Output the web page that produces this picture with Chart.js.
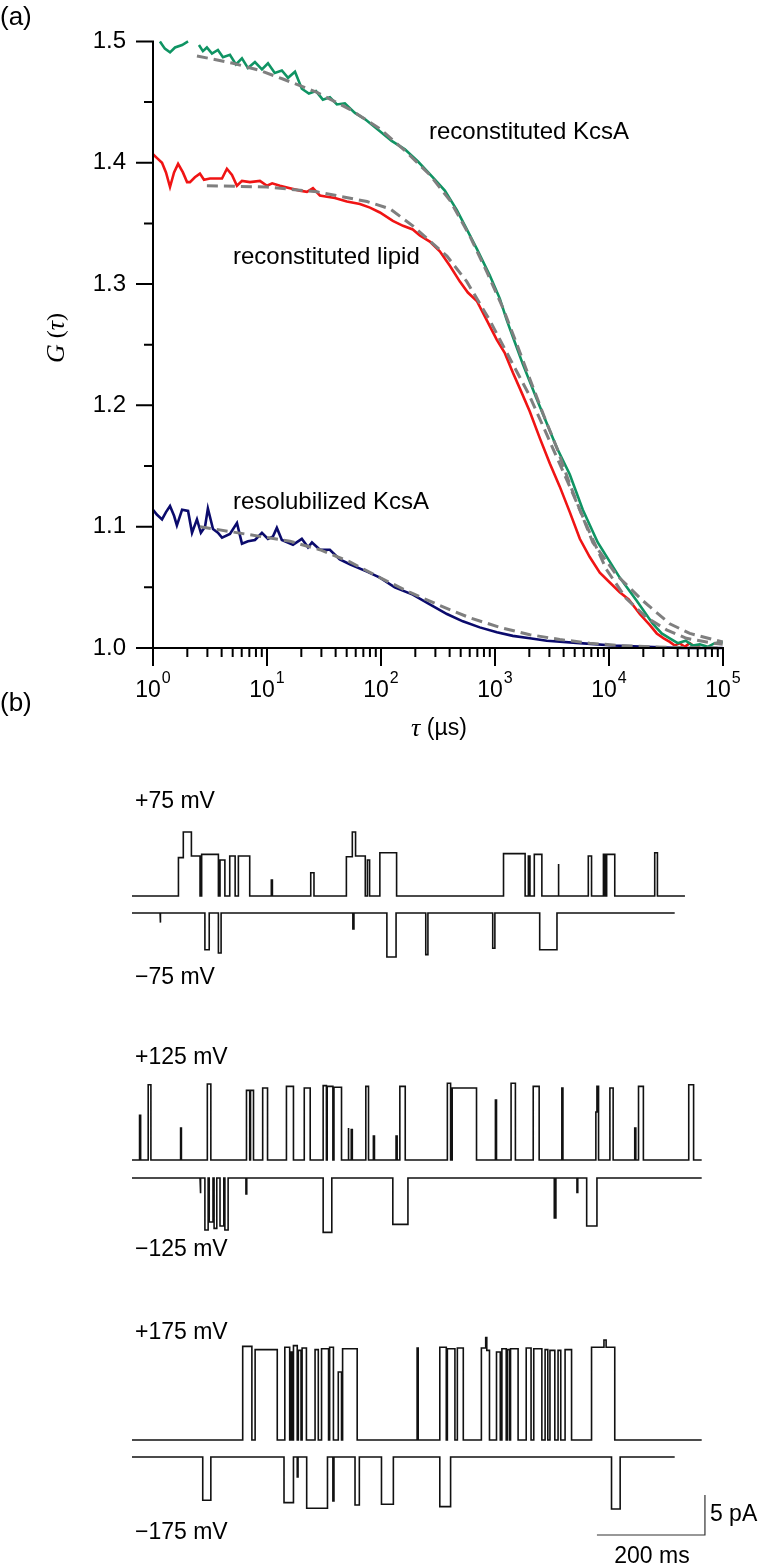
<!DOCTYPE html>
<html><head><meta charset="utf-8">
<script src="https://cdn.jsdelivr.net/npm/chart.js@4/dist/chart.umd.min.js"></script>
<style>
html,body{margin:0;padding:0;background:#fff;}
#wrapA{position:absolute;left:0;top:0;width:761px;height:750px;}
#wrapB{position:absolute;left:0;top:750px;width:761px;height:818px;}
canvas{display:block;}
</style></head><body>
<div id="wrapA"><canvas id="cA" width="761" height="750"></canvas></div>
<div id="wrapB"><canvas id="cB" width="761" height="818"></canvas></div>
<script>
// ---------- Panel (a) data : tau (µs) and G(tau) ----------
const tauGreen = [1.15,1.27,1.41,1.56,1.80,2.03,2.25,2.53,2.74,2.97,3.29,3.71,4.11,4.73,5.34,6.03,6.81,7.84,9.03,10.2,11.7,13.5,15.3,17.6,20.2,23.3,26.9,30.9,35.6,41.0,48.2,59.0,72.2,97.8,124,162,211,285,363,463,566,693,901,1102,1270,1493,1754,2328,3487,4530,5890,7970,12420,17500,24200,29000,34120,40090,47100,54240,62500,73440,84560,99400];
const gGreen = [1.500,1.494,1.491,1.495,1.497,1.500,null,1.497,1.492,1.495,1.490,1.493,1.487,1.489,1.481,1.486,1.478,1.483,1.477,1.482,1.474,1.476,1.470,1.475,1.461,1.457,1.459,1.452,1.454,1.448,1.449,1.441,1.436,1.426,1.418,1.411,1.401,1.388,1.377,1.361,1.345,1.329,1.307,1.288,1.270,1.252,1.234,1.205,1.165,1.143,1.114,1.087,1.058,1.039,1.020,1.012,1.008,1.004,1.006,1.002,1.003,1.001,1.004,1.005];

const tauRed = [1.00,1.08,1.20,1.30,1.41,1.53,1.66,1.83,1.99,2.11,2.33,2.58,2.80,3.16,3.57,4.03,4.45,4.93,5.45,6.03,7.09,8.67,10.0,11.1,13.0,15.9,19.4,22.4,25.3,29.1,33.6,39.4,50.2,65.3,80.0,97.8,127,156,190,219,268,328,402,492,578,693,848,1038,1220,1433,1651,2019,2472,3027,3700,4530,5545,6780,8305,10160,12420,14900,18620,22750,26240,30200,34120,37760,41700,46130,51050,56480,62500];
const gRed = [1.407,1.404,1.400,1.392,1.380,1.392,1.399,1.392,1.384,1.384,1.388,1.391,1.386,1.387,1.387,1.387,1.395,1.390,1.381,1.385,1.384,1.385,1.381,1.383,1.381,1.379,1.377,1.376,1.379,1.373,1.372,1.371,1.368,1.366,1.363,1.359,1.352,1.348,1.345,1.340,1.335,1.327,1.315,1.302,1.293,1.286,1.270,1.254,1.243,1.227,1.214,1.195,1.173,1.152,1.133,1.112,1.090,1.075,1.062,1.054,1.046,1.040,1.028,1.019,1.012,1.008,1.005,1.002,1.004,1.001,1.004,1.001,1.002];

const tauBlue = [1.00,1.08,1.20,1.30,1.41,1.53,1.62,1.80,2.03,2.20,2.43,2.63,2.86,3.03,3.36,3.71,4.03,4.73,5.45,6.03,6.81,7.84,9.03,10.2,11.3,12.2,13.5,16.9,20.2,22.9,24.8,29.1,35.6,43.5,53.3,75.4,97.8,132,190,268,379,522,735,1038,1433,2019,2843,5545,10800,21430,41700,99400];
const gBlue = [1.114,1.110,1.106,1.112,1.117,1.109,1.101,1.114,1.113,1.095,1.106,1.095,1.100,1.115,1.098,1.095,1.091,1.094,1.103,1.086,1.088,1.089,1.095,1.090,1.092,1.099,1.089,1.085,1.090,1.083,1.087,1.081,1.081,1.073,1.069,1.063,1.058,1.050,1.044,1.036,1.028,1.022,1.017,1.013,1.010,1.008,1.006,1.004,1.002,1.001,1.000,1.000];

const tauGreenFit = [2.43,5.03,8.67,13.8,27.4,53.3,97.8,162,268,402,598,848,1177,1560,2019,2720,3487,4530,5545,7210,11700,19770,34120,51050,99400];
const gGreenFit = [1.488,1.482,1.476,1.469,1.458,1.444,1.428,1.410,1.390,1.369,1.340,1.310,1.280,1.250,1.222,1.190,1.165,1.135,1.114,1.087,1.060,1.039,1.020,1.012,1.005];

const tauRedFit = [2.97,10.0,27.4,75.4,120,190,379,566,901,1433,1960,2843,4530,6780,9450,14100,21430,32000,47800,81000,99400];
const gRedFit = [1.381,1.380,1.376,1.368,1.362,1.348,1.323,1.302,1.270,1.234,1.210,1.176,1.133,1.095,1.065,1.041,1.025,1.015,1.008,1.004,1.003];

const tauBlueFit = [2.58,4.73,8.67,15.9,29.1,53.3,97.8,178,328,598,1102,2019,3700,6780,12420,22750,41700,99400];
const gBlueFit = [1.100,1.096,1.092,1.088,1.081,1.071,1.058,1.046,1.035,1.025,1.017,1.011,1.007,1.004,1.002,1.001,1.0005,1.000];

const xDecades = [1,10,100,1000,10000,100000];
const xExponents = ['0','1','2','3','4','5'];
const yMajorTicks = [1.0,1.1,1.2,1.3,1.4,1.5];
const yMinorTicks = [1.05,1.15,1.25,1.35,1.45];
const seriesNames = ['reconstituted KcsA','reconstituted lipid','resolubilized KcsA'];

// ---------- Panel (b) data : single-channel events [start ms, end ms, current pA] ----------
const voltages = ['+75 mV','\u221275 mV','+125 mV','\u2212125 mV','+175 mV','\u2212175 mV'];
const traceEnds = [1024,1005,1055,1055,1055,1005];
const ev75p = [[86,95,4.8],[95,110,8.0],[110,126,5.0],[129,160,5.2],[163,172,4.5],[181,191,5.0],[197,218,5.0],[258,260,2.0],[331,337,2.9],[397,408,4.9],[408,414,8.0],[414,432,5.0],[436,440,4.5],[459,490,5.4],[688,728,5.3],[734,737,5.0],[745,759,5.2],[789,790.5,4.0],[845,851,5.0],[873,876,5.2],[879,894,5.2],[968,973,5.4]];
const ev75n = [[52,53,-1.2],[135,143,-4.6],[160,165,-5.0],[409,411,-2.0],[472,489,-5.5],[544,548,-5.2],[668,672,-4.4],[755,787,-4.6]];
const ev125p = [[14,16,5.6],[30,35,9.4],[90,91.5,4.0],[139.5,146,9.5],[212,218,8.7],[219.5,225,8.7],[242,251,9.0],[286,299,9.2],[319,330,9.0],[354,360,9.3],[361.5,372,9.2],[374,388,9.1],[400,401.5,4.0],[406,408,3.8],[433,438,9.2],[447,449,3.0],[489,491,3.0],[496,506,9.2],[584,590,9.6],[593,638,9.0],[673,675,7.5],[702,710,9.6],[743,754,9.2],[796,798,9.0],[859,861,6.0],[861,864,9.2],[885,891,9.0],[931,933,4.0],[938,947,9.2],[1031,1040,9.4]];
const ev125n = [[126,127.5,-1.9],[135,141,-6.5],[143,150,-5.5],[152,157,-6.3],[163,170,-6.0],[172,178,-6.5],[211,212.5,-2.0],[354,370,-6.8],[483,511,-5.8],[782,785,-5.0],[824,825.5,-1.8],[842,861,-6.0]];
const ev175p = [[205,222,11.7],[228,269,11.3],[283,292,11.6],[294,297,11.0],[299,306,11.8],[308,313,11.2],[315,323,11.5],[339,345,11.3],[351,364,11.4],[366,373,11.6],[382,388,8.5],[390,417,11.4],[528,530,11.5],[570,582,11.6],[584,598,11.4],[602.5,613.5,11.5],[647,655,11.5],[655,657,12.8],[657,662,11.2],[675,682,11.0],[685,693,11.4],[695,699,11.3],[701,715,11.4],[730,739,11.5],[744,759,11.4],[765,770,11.3],[774,783,11.2],[789,794,11.2],[802,814,11.3],[851,874,11.6],[874,878,12.5],[878,894,11.6]];
const ev175n = [[131,146,-5.4],[281.5,299,-5.7],[306,307.5,-2.5],[323.5,362,-6.4],[372,374,-5.5],[413,421,-6.0],[462,484,-5.9],[570,590,-6.2],[888,904,-6.5]];
const traceEvents = [ev75p,ev75n,ev125p,ev125n,ev175p,ev175n];
const scaleBarTime = [861,1061,1061];
const scaleBarCurrent = [0,0,5];
const scaleBarLabels = ['200 ms','5 pA'];

// ---------- helpers ----------
const SANS = "'Liberation Sans', Arial, Helvetica, sans-serif";
const SERIF = "'Liberation Serif', 'Times New Roman', serif";
Chart.defaults.color = '#000';
Chart.defaults.font.family = SANS;

function pairs(xs, ys){ return xs.map((x,i)=>({x:x, y:ys[i]})); }
function buildTrace(tEnd, events){
  const pts=[{x:0,y:0}];
  for(let i=0;i<events.length;i++){
    const [a,b,l]=events[i];
    const prev=events[i-1], next=events[i+1];
    if(!prev || prev[1]!==a) pts.push({x:a,y:0});
    pts.push({x:a,y:l},{x:b,y:l});
    if(!next || next[0]!==b) pts.push({x:b,y:0});
  }
  pts.push({x:tEnd,y:0});
  return pts;
}
function drawParts(ctx, parts, cx, y){
  let w=0; parts.forEach(p=>{ctx.font=p.f; p.w=ctx.measureText(p.t).width; w+=p.w;});
  let x=cx-w/2;
  parts.forEach(p=>{ctx.font=p.f; ctx.fillText(p.t,x,y+(p.dy||0)); x+=p.w;});
}

// ---------- Panel (a) ----------
const axesA = {
  id:'axesA',
  afterDraw(chart){
    const {ctx, chartArea:a, scales:{x,y}} = chart;
    ctx.save();
    ctx.strokeStyle='#000'; ctx.fillStyle='#000'; ctx.lineWidth=2;
    ctx.beginPath();
    ctx.moveTo(a.left, y.getPixelForValue(1.5)-1); ctx.lineTo(a.left, a.bottom+1);
    ctx.moveTo(a.left-1, a.bottom); ctx.lineTo(x.getPixelForValue(1e5)+1, a.bottom);
    yMajorTicks.forEach(v=>{const p=y.getPixelForValue(v); ctx.moveTo(a.left-17,p); ctx.lineTo(a.left,p);});
    yMinorTicks.forEach(v=>{const p=y.getPixelForValue(v); ctx.moveTo(a.left-9,p); ctx.lineTo(a.left,p);});
    xDecades.forEach((d,i)=>{
      const p=x.getPixelForValue(d); ctx.moveTo(p,a.bottom); ctx.lineTo(p,a.bottom+18);
      if(i<xDecades.length-1){ for(let m=2;m<=9;m++){const q=x.getPixelForValue(d*m); ctx.moveTo(q,a.bottom); ctx.lineTo(q,a.bottom+9);} }
    });
    ctx.stroke();
    // x tick labels 10^n
    ctx.textBaseline='alphabetic';
    xDecades.forEach((d,i)=>{
      const p=x.getPixelForValue(d);
      ctx.font='23px '+SANS; const w1=ctx.measureText('10').width;
      ctx.font='16px '+SANS; const w2=ctx.measureText(xExponents[i]).width;
      const s=p-(w1+w2+1)/2;
      ctx.font='23px '+SANS; ctx.fillText('10', s, a.bottom+49);
      ctx.font='16px '+SANS; ctx.fillText(xExponents[i], s+w1+1, a.bottom+35);
    });
    // axis titles
    ctx.textBaseline='middle';
    drawParts(ctx,[{t:'\u03C4',f:'italic 26px '+SERIF},{t:' (\u00B5s)',f:'23px '+SANS}], (a.left+a.right)/2+1, a.bottom+81);
    ctx.save(); ctx.translate(57, 338); ctx.rotate(-Math.PI/2);
    drawParts(ctx,[{t:'G',f:'italic 26px '+SERIF},{t:' (',f:'24px '+SERIF},{t:'\u03C4',f:'italic 26px '+SERIF},{t:')',f:'24px '+SERIF}],0,0);
    ctx.restore();
    // series annotations
    ctx.font='24px '+SANS; ctx.textAlign='left';
    ctx.fillText(seriesNames[0], 429, 132);
    ctx.fillText(seriesNames[1], 233, 257);
    ctx.fillText(seriesNames[2], 233, 502);
    ctx.font='26px '+SANS;
    ctx.fillText('(a)', 0, 18);
    ctx.fillText('(b)', 0, 704);
    ctx.restore();
  }
};

const lineDs = (label, xs, ys, color, width, order, dash) => ({
  label, data: pairs(xs,ys), borderColor: color, borderWidth: width, order,
  borderDash: dash||[], pointRadius:0, fill:false, tension:0, spanGaps:false, clip:false
});

new Chart(document.getElementById('cA'), {
  type:'line',
  data:{datasets:[
    lineDs('fit KcsA', tauGreenFit, gGreenFit, '#7f7f7f', 3, 0, [11,6]),
    lineDs('fit lipid', tauRedFit, gRedFit, '#7f7f7f', 3, 0, [11,6]),
    lineDs('fit resolubilized', tauBlueFit, gBlueFit, '#7f7f7f', 3, 0, [11,6]),
    lineDs(seriesNames[0], tauGreen, gGreen, '#0f9463', 2.6, 1),
    lineDs(seriesNames[1], tauRed, gRed, '#f01414', 2.6, 1),
    lineDs(seriesNames[2], tauBlue, gBlue, '#0a0a6c', 2.6, 1)
  ]},
  options:{
    responsive:false, animation:false, devicePixelRatio:1,
    layout:{padding:{left:0,right:38,top:28,bottom:0}},
    plugins:{legend:{display:false}, tooltip:{enabled:false}},
    scales:{
      x:{type:'logarithmic', min:1, max:1e5, grid:{display:false}, border:{display:false},
         ticks:{display:false}, afterFit(s){s.height=102;}},
      y:{type:'linear', min:1.0, max:1.5, grid:{display:false, drawTicks:false}, border:{display:false},
         ticks:{stepSize:0.1, padding:27, color:'#000', font:{size:24, family:SANS}, callback:v=>v.toFixed(1)},
         afterFit(s){s.width=153;}}
    }
  },
  plugins:[axesA]
});

// ---------- Panel (b) ----------
const baselinesPx = [146,163,410,428,690,707]; // position of each trace's zero line in panel (b)
const pxPerPA = 8, panelBH = 818;
const yScalesB = {};
baselinesPx.forEach((b,i)=>{ yScalesB['y'+i]={type:'linear',display:false,max:b/pxPerPA,min:b/pxPerPA-panelBH/pxPerPA}; });
yScalesB.ysb = {type:'linear',display:false,max:785/pxPerPA,min:785/pxPerPA-panelBH/pxPerPA};

const dsB = traceEvents.map((ev,i)=>({
  label: voltages[i], data: buildTrace(traceEnds[i], ev), yAxisID:'y'+i,
  borderColor:'#111', borderWidth:1.6, pointRadius:0, tension:0, fill:false, clip:false
}));
dsB.push({label:'scale bar', data:pairs(scaleBarTime, scaleBarCurrent), yAxisID:'ysb',
  borderColor:'#333', borderWidth:1.2, pointRadius:0, tension:0, fill:false, clip:false});

const labelsB = {
  id:'labelsB',
  afterDraw(chart){
    const ctx=chart.ctx; ctx.save(); ctx.fillStyle='#000'; ctx.textBaseline='middle'; ctx.textAlign='left';
    ctx.font='23px '+SANS;
    const ly=[52,228,308,500,583,783];
    voltages.forEach((v,i)=>ctx.fillText(v,135,ly[i]));
    const xs=chart.scales.x, ys=chart.scales.ysb;
    ctx.fillText(scaleBarLabels[1], xs.getPixelForValue(1061)+5, ys.getPixelForValue(2.6));
    ctx.textAlign='center';
    ctx.fillText(scaleBarLabels[0], xs.getPixelForValue(961)+1, ys.getPixelForValue(0)+22);
    ctx.restore();
  }
};

new Chart(document.getElementById('cB'), {
  type:'line',
  data:{datasets:dsB},
  options:{
    responsive:false, animation:false, devicePixelRatio:1,
    layout:{padding:{left:132,right:35,top:0,bottom:0}},
    plugins:{legend:{display:false}, tooltip:{enabled:false}},
    scales:Object.assign({x:{type:'linear',min:0,max:1100,display:false}}, yScalesB)
  },
  plugins:[labelsB]
});
</script>
</body></html>
